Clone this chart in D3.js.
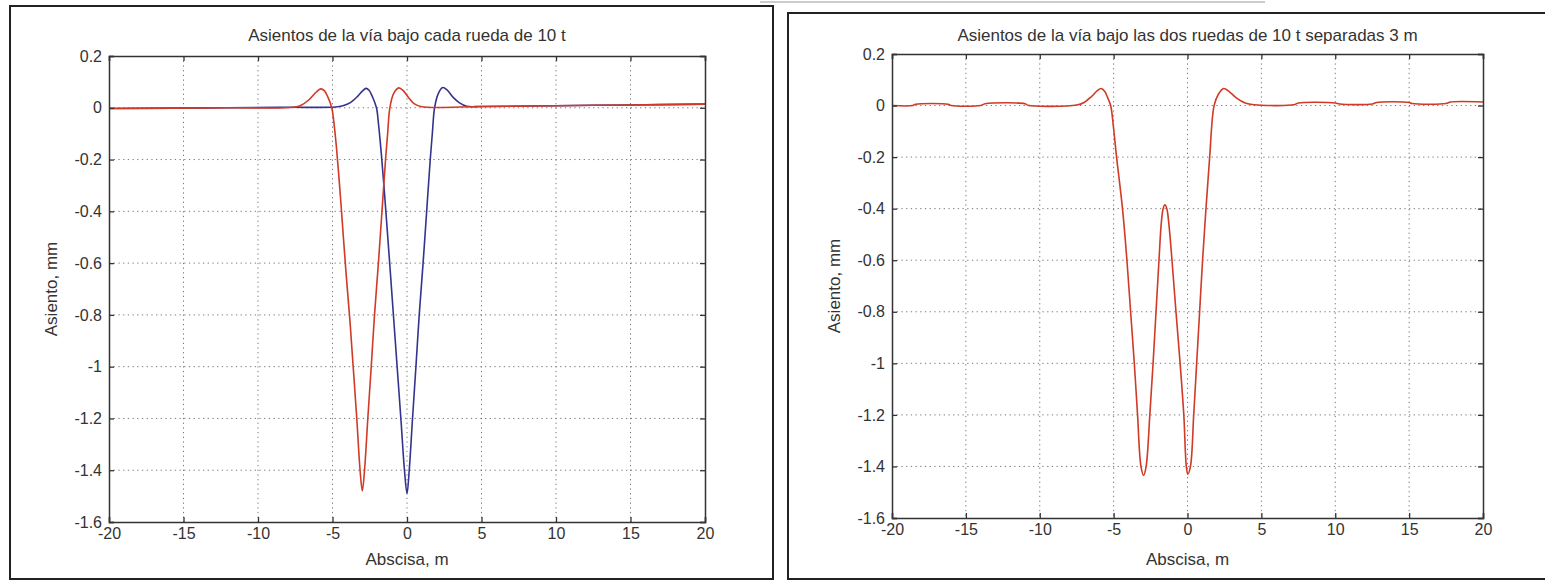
<!DOCTYPE html>
<html>
<head>
<meta charset="utf-8">
<script src="https://cdn.jsdelivr.net/npm/d3@7"></script>
<style>
  body { margin: 0; background: #fff; }
  svg { display: block; font-family: "Liberation Sans", Arial, sans-serif; }
</style>
</head>
<body>
<svg id="chart" width="1545" height="584"></svg>
<script>
// tick labels shared by both panels
const xTicks = [-20, -15, -10, -5, 0, 5, 10, 15, 20];
const yTicks = [0.2, 0, -0.2, -0.4, -0.6, -0.8, -1, -1.2, -1.4, -1.6];

// left panel: one wheel at -3 m (red), one wheel at 0 m (blue)
const blueX = [-20, -12, -8, -4.8, -4.3, -3.8, -3.3, -3.0, -2.75, -2.55, -2.3, -2.05, -1.9, -1.72, -1.55, -1.38, -1.15, -0.9, -0.65, -0.4, -0.17, 0, 0.15, 0.37, 0.6, 0.82, 1.08, 1.32, 1.56, 1.7, 1.85, 2.1, 2.4, 2.7, 3.1, 3.5, 4.0, 5, 10, 15, 20];
const blueY = [-0.003, 0.0, 0.002, 0.003, 0.008, 0.02, 0.045, 0.064, 0.075, 0.068, 0.04, 0.0, -0.07, -0.18, -0.3, -0.43, -0.61, -0.81, -1.01, -1.21, -1.4, -1.49, -1.4, -1.2, -1.0, -0.8, -0.6, -0.4, -0.2, -0.1, 0.0, 0.055, 0.078, 0.068, 0.04, 0.02, 0.006, 0.005, 0.008, 0.011, 0.014];

const redX = [-20, -12, -7.6, -7.1, -6.6, -6.1, -5.8, -5.55, -5.3, -5.05, -4.9, -4.74, -4.58, -4.42, -4.27, -4.06, -3.82, -3.6, -3.37, -3.15, -3.0, -2.85, -2.63, -2.4, -2.18, -1.92, -1.68, -1.44, -1.3, -1.15, -0.9, -0.55, -0.25, 0.1, 0.5, 1.0, 5, 10, 15, 20];
const redY = [-0.003, 0.0, 0.002, 0.01, 0.03, 0.06, 0.073, 0.066, 0.04, 0.0, -0.06, -0.15, -0.26, -0.38, -0.5, -0.66, -0.83, -1.01, -1.2, -1.4, -1.48, -1.4, -1.2, -1.0, -0.8, -0.6, -0.4, -0.2, -0.1, 0.0, 0.055, 0.077, 0.066, 0.04, 0.015, 0.004, 0.005, 0.008, 0.011, 0.014];

// right panel: both wheels together, 3 m apart
const sumX = [-20, -18.6, -18.4, -16.2, -16, -14, -13.7, -11, -10.8, -7.5, -7, -6.5, -6.1, -5.85, -5.6, -5.4, -5.2, -5.0, -4.8, -4.4, -4.1, -3.85, -3.6, -3.38, -3.15, -2.97, -2.8, -2.55, -2.33, -2.13, -1.93, -1.78, -1.65, -1.53, -1.4, -1.26, -1.05, -0.78, -0.5, -0.25, -0.08, 0.02, 0.2, 0.42, 0.62, 0.82, 1.02, 1.25, 1.5, 1.8, 2.1, 2.45, 2.8, 3.3, 3.9, 4.5, 7.2, 7.5, 10, 10.3, 12.5, 12.8, 15, 15.2, 17.5, 17.8, 20];
const sumY = [0.0, 0.0, 0.005, 0.005, 0.0, 0.0, 0.007, 0.007, 0.001, 0.002, 0.012, 0.035, 0.058, 0.066, 0.055, 0.03, 0.0, -0.09, -0.2, -0.4, -0.6, -0.8, -1.0, -1.2, -1.4, -1.435, -1.4, -1.2, -1.0, -0.8, -0.6, -0.46, -0.4, -0.385, -0.4, -0.46, -0.6, -0.8, -1.0, -1.2, -1.4, -1.43, -1.4, -1.2, -1.0, -0.8, -0.6, -0.4, -0.2, 0.0, 0.045, 0.066, 0.055, 0.03, 0.01, 0.003, 0.003, 0.01, 0.01, 0.006, 0.006, 0.012, 0.012, 0.008, 0.008, 0.014, 0.014];

const RED = "#d03a26", BLUE = "#34348f";

const svg = d3.select("#chart");

// faint page edge at the top of the right half
svg.append("line").attr("x1", 760).attr("x2", 1265).attr("y1", 2).attr("y2", 2)
  .attr("stroke", "#bbb").attr("stroke-width", 1.5);

// panel frames
svg.append("rect").attr("x", 10).attr("y", 6).attr("width", 763).attr("height", 573)
  .attr("fill", "none").attr("stroke", "#222").attr("stroke-width", 2);
svg.append("rect").attr("x", 788).attr("y", 13).attr("width", 800).attr("height", 566)
  .attr("fill", "none").attr("stroke", "#222").attr("stroke-width", 2);

// matlab style labels use a plain hyphen
const fmt = (d) => String(+d.toFixed(1)).replace("\u2212", "-");

function drawPanel(opts) {
  let x = d3.scaleLinear().domain([-20, 20]).range([opts.left, opts.right]),
    y = d3.scaleLinear().domain([-1.6, 0.2]).range([opts.bottom, opts.top]),
    g = svg.append("g");

  // dotted grid
  g.selectAll(".gx").data(xTicks.slice(1, -1)).enter().append("line")
    .attr("x1", (d) => x(d)).attr("x2", (d) => x(d))
    .attr("y1", opts.top).attr("y2", opts.bottom)
    .attr("stroke", "#7a7a7a").attr("stroke-width", 1).attr("stroke-dasharray", "1.3,3.4");
  g.selectAll(".gy").data(yTicks.slice(1, -1)).enter().append("line")
    .attr("y1", (d) => y(d)).attr("y2", (d) => y(d))
    .attr("x1", opts.left).attr("x2", opts.right)
    .attr("stroke", "#7a7a7a").attr("stroke-width", 1).attr("stroke-dasharray", "1.3,3.4");

  // curves
  let line = d3.line().x((d) => x(d[0])).y((d) => y(d[1])).curve(d3.curveCatmullRom.alpha(0.5));
  opts.series.forEach((s) => {
    g.append("path")
      .datum(d3.zip(s.xs, s.ys))
      .attr("fill", "none")
      .attr("stroke", s.color)
      .attr("stroke-width", 1.6)
      .attr("stroke-linejoin", "round")
      .attr("d", line);
  });

  // axes, ticks inside on all four sides (box on)
  let tick = -5;
  g.append("g").attr("transform", "translate(0," + opts.bottom + ")")
    .call(d3.axisBottom(x).tickValues(xTicks).tickSize(tick).tickPadding(6).tickFormat(fmt));
  g.append("g").attr("transform", "translate(0," + opts.top + ")")
    .call(d3.axisTop(x).tickValues(xTicks).tickSize(tick).tickFormat(""));
  g.append("g").attr("transform", "translate(" + opts.left + ",0)")
    .call(d3.axisLeft(y).tickValues(yTicks).tickSize(tick).tickPadding(7).tickFormat(fmt));
  g.append("g").attr("transform", "translate(" + opts.right + ",0)")
    .call(d3.axisRight(y).tickValues(yTicks).tickSize(tick).tickFormat(""));

  g.selectAll(".domain").attr("stroke", "#333").attr("stroke-width", 1.5);
  g.selectAll(".tick line").attr("stroke", "#333").attr("stroke-width", 1.3);
  g.selectAll(".tick text").attr("font-size", 16).attr("fill", "#333")
    .attr("font-family", "'Liberation Sans', Arial, sans-serif");

  // titles
  let cx = (opts.left + opts.right) / 2;
  svg.append("text").attr("x", cx).attr("y", 41).attr("text-anchor", "middle")
    .attr("font-size", 17).attr("fill", "#333").text(opts.title);
  svg.append("text").attr("x", cx).attr("y", 565).attr("text-anchor", "middle")
    .attr("font-size", 17).attr("fill", "#333").text("Abscisa, m");
  svg.append("text")
    .attr("transform", "translate(" + (opts.left - 52) + "," + (opts.top + opts.bottom) / 2 + ") rotate(-90)")
    .attr("text-anchor", "middle").attr("font-size", 17).attr("fill", "#333").text("Asiento, mm");
}

drawPanel({
  left: 109, right: 705, top: 56, bottom: 522,
  title: "Asientos de la vía bajo cada rueda de 10 t",
  series: [
    { xs: blueX, ys: blueY, color: BLUE },
    { xs: redX, ys: redY, color: RED },
  ],
});

drawPanel({
  left: 892, right: 1483, top: 54, bottom: 518,
  title: "Asientos de la vía bajo las dos ruedas de 10 t separadas 3 m",
  series: [{ xs: sumX, ys: sumY, color: RED }],
});
</script>
</body>
</html>
